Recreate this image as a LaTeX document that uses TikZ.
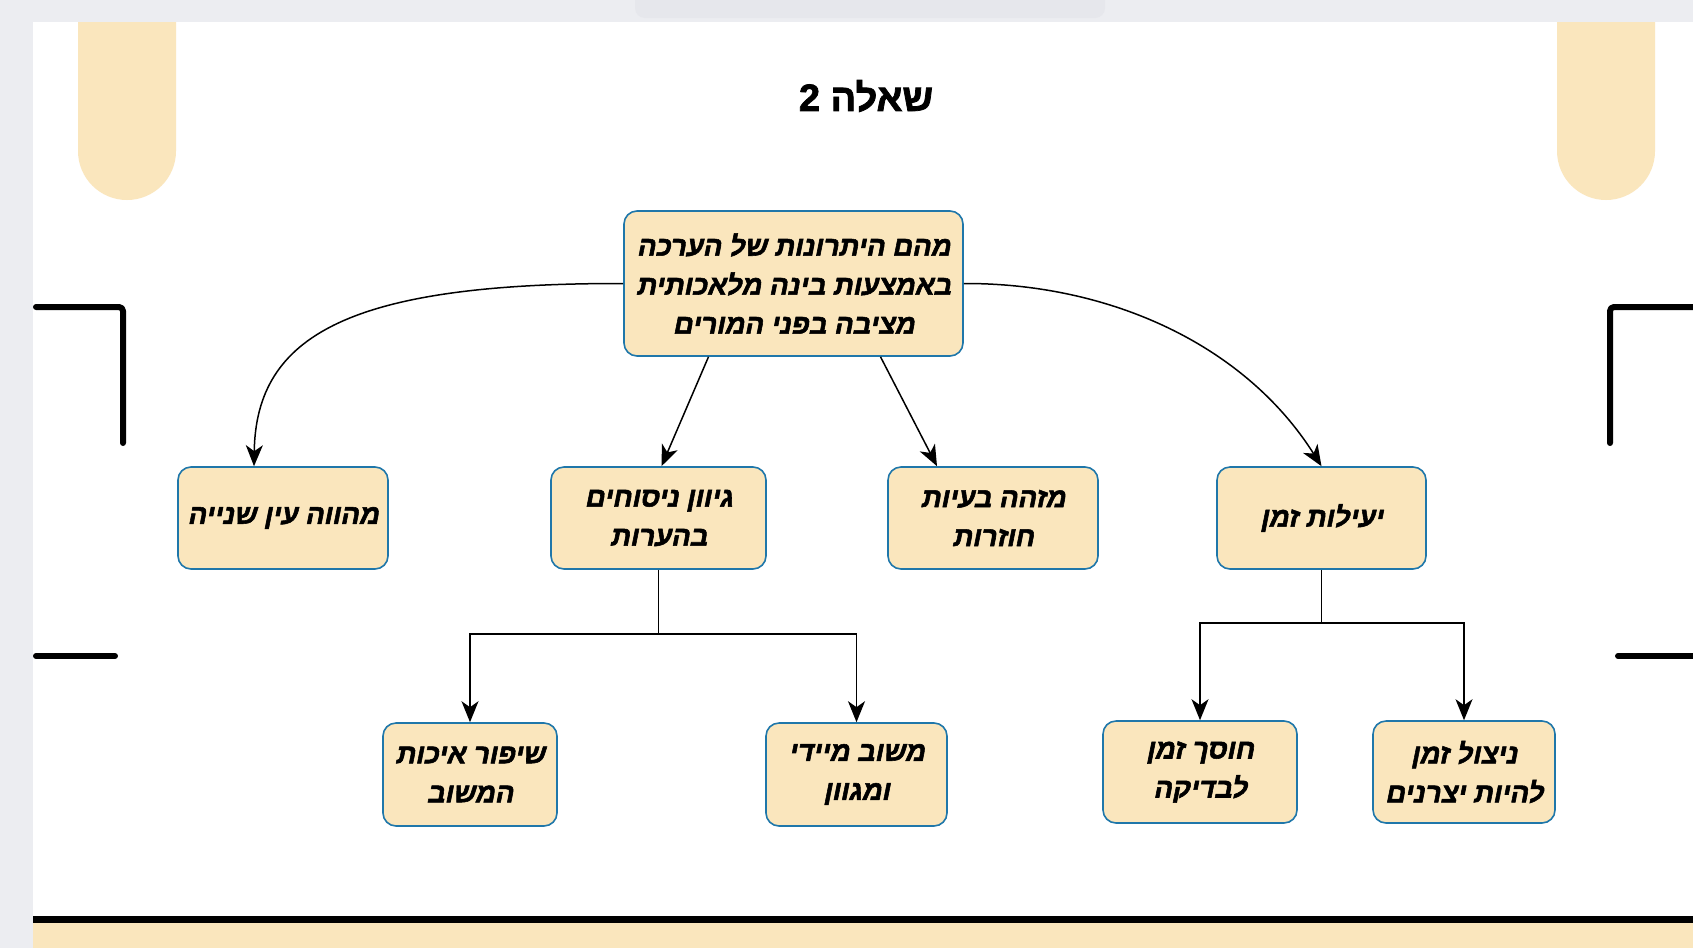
\documentclass[tikz,border=0pt]{standalone}
\usepackage{fontspec}
\usetikzlibrary{arrows.meta,calc}
\TeXXeTstate=1
\newfontfamily\hebit[Script=Hebrew,FakeSlant=0.2,FakeBold=2]{Liberation Sans Bold}
\newfontfamily\hebbf[Script=Hebrew,FakeBold=2]{Liberation Sans Bold}
\definecolor{pagegray}{RGB}{236,237,241}
\definecolor{shadegray}{RGB}{230,231,236}
\definecolor{beige}{RGB}{250,230,189}
\definecolor{boxblue}{RGB}{31,119,170}
\begin{document}
\begin{tikzpicture}[x=1pt,y=-1pt,
  box/.style={draw=boxblue, fill=beige, line width=1.6pt, rounded corners=13pt, inner sep=0pt, align=center, font=\hebit\fontsize{27.5}{39}\selectfont},
  arr/.style={line width=1.5pt, -{Stealth[length=21pt,width=17pt,inset=6pt]}},
  link/.style={line width=1.5pt},
  brk/.style={line width=6pt, line cap=round, line join=round, rounded corners=4pt},
  pill/.style={fill=beige, rounded corners=49pt}]
\useasboundingbox (0,0) rectangle (1693,948);
% page background
\fill[pagegray] (0,0) rectangle (1693,948);
\fill[white] (33,22) rectangle (1693,916);
% top decorative pills
\fill[pill] (78,-80) rectangle (176,200);
\fill[pill] (1557,-80) rectangle (1655,200);
\fill[pagegray] (0,0) rectangle (1693,22);
\fill[shadegray, rounded corners=10pt] (635,-10) rectangle (1105,18);
% bottom band
\fill[black] (33,916) rectangle (1693,923);
\fill[beige] (33,923) rectangle (1693,948);
% side brackets
\draw[brk] (36,307) -- (123,307) -- (123,443);
\draw[brk] (1696,307) -- (1610,307) -- (1610,443);
\draw[brk] (36,656) -- (115,656);
\draw[brk] (1618,656) -- (1696,656);
% title
\node (title) at (866,96) {\hebbf\fontsize{38}{40}\selectfont\beginR שאלה 2\endR};
% nodes
\node[box, minimum width=339pt, minimum height=145pt] (root) at (793.5,283.5)
  {\beginR מהם היתרונות של הערכה\endR\\\beginR באמצעות בינה מלאכותית\endR\\\beginR מציבה בפני המורים\endR};
\node[box, minimum width=210pt, minimum height=102pt] (A) at (283,518) {\beginR מהווה עין שנייה\endR};
\node[box, minimum width=215pt, minimum height=102pt] (B) at (658.5,518) {\beginR גיוון ניסוחים\endR\\\beginR בהערות\endR};
\node[box, minimum width=210pt, minimum height=102pt] (C) at (993,518) {\beginR מזהה בעיות\endR\\\beginR חוזרות\endR};
\node[box, minimum width=209pt, minimum height=102pt] (D) at (1321.5,518) {\beginR יעילות זמן\endR};
\node[box, minimum width=174pt, minimum height=103pt] (E) at (470,774.5) {\beginR שיפור איכות\endR\\\beginR המשוב\endR};
\node[box, minimum width=181pt, minimum height=103pt] (F) at (856.5,774.5) {\beginR משוב מיידי\endR\\\beginR ומגוון\endR};
\node[box, minimum width=194pt, minimum height=102pt] (G) at (1200,772) {\beginR חוסך זמן\endR\\\beginR לבדיקה\endR};
\node[box, minimum width=182pt, minimum height=102pt] (H) at (1464,772) {\beginR ניצול זמן\endR\\\beginR להיות יצרנים\endR};
% connectors
\draw[arr] (root.west) .. controls (350,283) and (256,335) .. ($(A.north)+(-29,0)$);
\draw[arr] (root.east) .. controls (1110,283) and (1245,345) .. (D.north);
\draw[arr] ($(root.south)+(-85,0)$) -- ($(B.north)+(3,0)$);
\draw[arr] ($(root.south)+(87,0)$) -- ($(C.north)+(-56,0)$);
\coordinate (bj) at (658.5,634);
\draw[link] (B.south) -- (bj);
\draw[arr] (bj) -| (E.north);
\draw[arr] (bj) -| (F.north);
\coordinate (dj) at (1321.5,623);
\draw[link] (D.south) -- (dj);
\draw[arr] (dj) -| (G.north);
\draw[arr] (dj) -| (H.north);
\end{tikzpicture}
\end{document}
